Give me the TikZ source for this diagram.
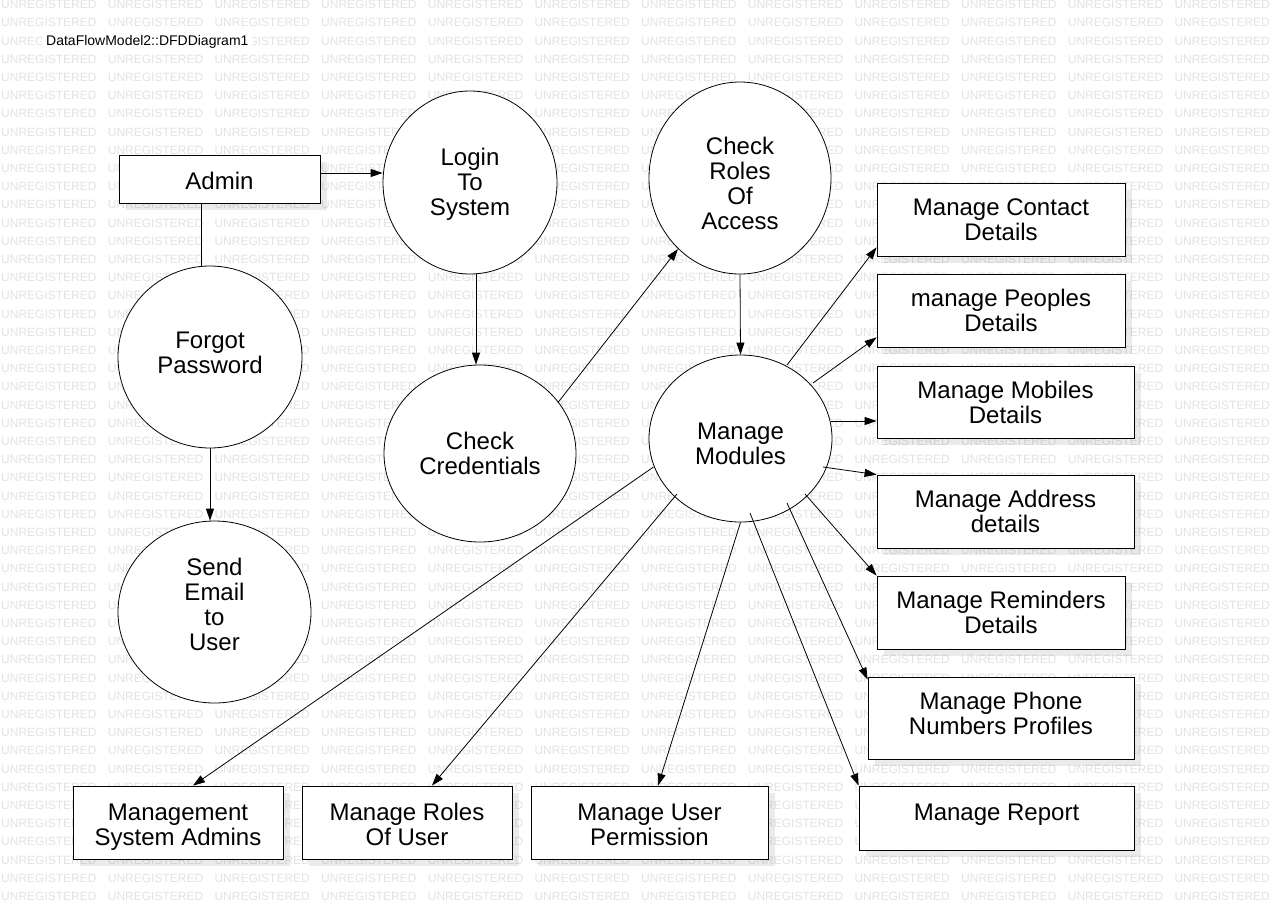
\documentclass[tikz,border=0pt]{standalone}
\usepackage{fontspec}
\setmainfont{Liberation Sans}
\usetikzlibrary{shapes.geometric, arrows.meta, shadows, calc}
\tikzstyle{process} = [ellipse, draw=black, fill=white, line width=0.8pt, inner sep=0pt, align=center, font=\fontsize{24}{25}\selectfont]
\tikzstyle{store} = [rectangle, draw=black, fill=white, line width=0.8pt, align=center, font=\fontsize{24}{25}\selectfont, drop shadow={shadow xshift=7pt, shadow yshift=-7pt, fill=black, opacity=0.08}]
\tikzstyle{arrow} = [line width=0.8pt, -{Triangle[length=12pt, width=8pt]}]
\tikzstyle{flow} = [line width=0.8pt]
\tikzstyle{watermark} = [anchor=west, inner sep=0pt, text=black!11, font=\fontsize{12}{12}\selectfont]
\begin{document}
\begin{tikzpicture}[x=1pt, y=-1pt]

\fill[white] (0,0) rectangle (1280,905);
\useasboundingbox (0,0) rectangle (1280,905);

% background stamp
\foreach \r in {0,...,49}
  \foreach \c in {0,...,11}
    \node[watermark] at (1+\c*106.667, 4.5+\r*18.2) {UNREGISTERED};

\node[anchor=west, fill=white, inner xsep=4pt, inner ysep=5pt, font=\fontsize{14}{14}\selectfont] (title) at (42,42) {DataFlowModel2::DFDDiagram1};

% processes
\node[store, minimum width=201pt, minimum height=48pt, text height=21pt] (admin) at (219.5,179) {Admin};
\node[process, minimum width=174pt, minimum height=183pt, text height=71pt] (login) at (470,182.5) {Login\\To\\System};
\node[process, minimum width=182pt, minimum height=192pt, text height=104pt] (access) at (740,178) {Check\\Roles\\Of\\Access};
\node[process, minimum width=184pt, minimum height=182pt, text height=34pt] (forgot) at (210,357) {Forgot\\Password};
\node[process, minimum width=192pt, minimum height=177pt] (credentials) at (480,453.5) {Check\\Credentials};
\node[process, minimum width=183pt, minimum height=167pt, text height=52pt] (modules) at (740.5,438.5) {Manage\\Modules};
\node[process, minimum width=193pt, minimum height=182pt, text height=78pt] (email) at (214.5,612) {Send\\Email\\to\\User};

% modules
\node[store, minimum width=248pt, minimum height=73pt] (contact) at (1001,219.5) {Manage Contact\\Details};
\node[store, minimum width=248pt, minimum height=73pt] (peoples) at (1001,310.5) {manage Peoples\\Details};
\node[store, minimum width=257pt, minimum height=72pt] (mobiles) at (1005.5,402) {Manage Mobiles\\Details};
\node[store, minimum width=257pt, minimum height=73pt] (address) at (1005.5,511.5) {Manage Address\\details};
\node[store, minimum width=248pt, minimum height=73pt] (reminders) at (1001,612.5) {Manage Reminders\\Details};
\node[store, minimum width=266pt, minimum height=82pt, text height=33pt] (phone) at (1001,718) {Manage Phone\\Numbers Profiles};
\node[store, minimum width=275pt, minimum height=64pt, text depth=12pt] (report) at (996.5,818) {Manage Report};
\node[store, minimum width=210pt, minimum height=73pt, text height=46pt, text depth=0pt] (sysadmins) at (178,822.5) {Management\\System Admins};
\node[store, minimum width=210pt, minimum height=73pt, text height=46pt, text depth=0pt] (userroles) at (407,822.5) {Manage Roles\\Of User};
\node[store, minimum width=237pt, minimum height=73pt, text height=46pt, text depth=0pt] (permission) at (649.5,822.5) {Manage User\\Permission};

\coordinate (adminout) at ($(admin.east)+(0,-6)$);
\coordinate (adminbottom) at ($(admin.south)+(-18.5,0)$);
\coordinate (loginbottom) at ($(login.south)+(6,0)$);
\coordinate (mobout) at ($(modules.center)+(90,-17.5)$);

\draw [arrow] (adminout) -- (adminout -| login.west);
\draw [flow] (adminbottom) -- (adminbottom |- forgot.north);
\draw [arrow] (forgot.south) -- (forgot.south |- email.north);
\draw [arrow] (loginbottom) -- (loginbottom |- credentials.north);
\draw [arrow] ($(credentials.center)+(78,-51)$) -- ($(access.center)+(-62,71)$);
\draw [arrow] (access.south) -- (modules.north);

\draw [arrow] ($(modules.center)+(46.5,-73.5)$) -- ($(contact.south west)+(0,-9)$);
\draw [arrow] ($(modules.center)+(72.5,-55.5)$) -- ($(peoples.south west)+(0,-10)$);
\draw [arrow] (mobout) -- (mobout -| mobiles.west);
\draw [arrow] ($(modules.center)+(82.5,28.5)$) -- (address.north west);
\draw [arrow] ($(modules.center)+(64.5,55.5)$) -- (reminders.north west);
\draw [arrow] ($(modules.center)+(46.5,64.5)$) -- ($(phone.north west)+(0,3)$);
\draw [arrow] ($(modules.center)+(9.5,74.5)$) -- (report.north west);
\draw [arrow] (modules.south) -- ($(permission.north)+(8.5,0)$);
\draw [arrow] ($(modules.center)+(-63.5,55.5)$) -- ($(userroles.north)+(25,0)$);
\draw [arrow] ($(modules.center)+(-87,28.5)$) -- ($(sysadmins.north)+(15,0)$);

\end{tikzpicture}
\end{document}
